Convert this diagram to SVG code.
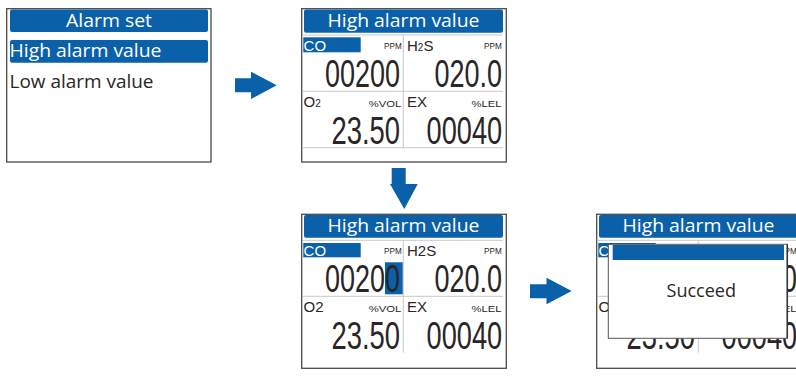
<svg xmlns="http://www.w3.org/2000/svg" width="796" height="382" viewBox="0 0 796 382">
<style>
.frame{fill:#fff;stroke:#4a4a4a;stroke-width:1.3}
.bar{fill:#0b60aa}
.div{stroke:#c9c9c9;stroke-width:1;fill:none}
.ui{font-family:"Open Sans","Liberation Sans",sans-serif;font-size:18px}
.w{fill:#fff}
.d{fill:#2a2526}
.lab{font-family:"Liberation Sans",Arial,sans-serif;font-size:15px}
.unit{font-family:"Liberation Sans",Arial,sans-serif;font-size:8.5px}
.big{font-family:"Liberation Sans",Arial,sans-serif;font-size:38px}
.arrow{fill:#0b60aa}
</style>
<rect width="796" height="382" fill="#fff"/>

<g id="panel1">
<rect class="frame" x="6.7" y="8.7" width="204.3" height="153.3"/>
<rect class="bar" x="10" y="9.5" width="198" height="22.5" rx="2"/>
<text class="ui w" x="66" y="26.7" textLength="86" lengthAdjust="spacingAndGlyphs">Alarm set</text>
<rect class="bar" x="10" y="40" width="198" height="22.7" rx="2"/>
<text class="ui w" x="9.5" y="57" textLength="152" lengthAdjust="spacingAndGlyphs">High alarm value</text>
<text class="ui d" x="9.5" y="88" textLength="144" lengthAdjust="spacingAndGlyphs">Low alarm value</text>
</g>

<g id="panel2">
<rect class="frame" x="301.7" y="8.7" width="204.6" height="153.3"/>
<rect class="bar" x="304" y="9.5" width="199" height="23.2" rx="2"/>
<text class="ui w" x="327.5" y="26.7" textLength="152" lengthAdjust="spacingAndGlyphs">High alarm value</text>
<path class="div" d="M303 35H503M303 91.3H503M303 147.7H503M403.3 35V147.7"/>
<rect class="bar" x="303.3" y="37.3" width="57.4" height="15"/>
<text class="lab w" x="303.6" y="50.7">CO</text>
<text class="unit d" x="384" y="49.3" textLength="17.7" lengthAdjust="spacingAndGlyphs">PPM</text>
<text class="lab d" x="407" y="50.7">H<tspan font-size="10">2</tspan>S</text>
<text class="unit d" x="484" y="49.3" textLength="17.7" lengthAdjust="spacingAndGlyphs">PPM</text>
<text class="big d" x="325" y="87.3" textLength="75" lengthAdjust="spacingAndGlyphs">00200</text>
<text class="big d" x="434.6" y="87.3" textLength="67.5" lengthAdjust="spacingAndGlyphs">020.0</text>
<text class="lab d" x="303.6" y="106.7">O<tspan font-size="10">2</tspan></text>
<text class="unit d" x="368.7" y="107.3" textLength="32.5" lengthAdjust="spacingAndGlyphs">%VOL</text>
<text class="lab d" x="407" y="106.7">EX</text>
<text class="unit d" x="471.4" y="107.3" textLength="30" lengthAdjust="spacingAndGlyphs">%LEL</text>
<text class="big d" x="331.5" y="144" textLength="68.5" lengthAdjust="spacingAndGlyphs">23.50</text>
<text class="big d" x="426.6" y="144" textLength="75.5" lengthAdjust="spacingAndGlyphs">00040</text>
</g>

<g id="panel3">
<rect class="frame" x="301.7" y="214.3" width="204.6" height="154"/>
<rect class="bar" x="304" y="215" width="199" height="22.7" rx="2"/>
<text class="ui w" x="327.5" y="231.7" textLength="152" lengthAdjust="spacingAndGlyphs">High alarm value</text>
<path class="div" d="M303 240.3H503M303 296.3H503M403.3 240.3V352.7"/>
<rect class="bar" x="303.3" y="243" width="57.4" height="14.3"/>
<text class="lab w" x="303.6" y="255.7">CO</text>
<text class="unit d" x="384" y="254.3" textLength="17.7" lengthAdjust="spacingAndGlyphs">PPM</text>
<text class="lab d" x="407" y="255.7">H2S</text>
<text class="unit d" x="484" y="254.3" textLength="17.7" lengthAdjust="spacingAndGlyphs">PPM</text>
<rect class="bar" x="385" y="262.3" width="17.7" height="32"/>
<text class="big d" x="325" y="292.3" textLength="75" lengthAdjust="spacingAndGlyphs">00200</text>
<text class="big d" x="434.6" y="292.3" textLength="67.5" lengthAdjust="spacingAndGlyphs">020.0</text>
<text class="lab d" x="303.6" y="311.7">O2</text>
<text class="unit d" x="368.7" y="312.3" textLength="32.5" lengthAdjust="spacingAndGlyphs">%VOL</text>
<text class="lab d" x="407" y="311.7">EX</text>
<text class="unit d" x="471.4" y="312.3" textLength="30" lengthAdjust="spacingAndGlyphs">%LEL</text>
<text class="big d" x="331.5" y="349" textLength="68.5" lengthAdjust="spacingAndGlyphs">23.50</text>
<text class="big d" x="426.6" y="349" textLength="75.5" lengthAdjust="spacingAndGlyphs">00040</text>
</g>

<g id="panel4">
<rect class="frame" x="596.7" y="214.3" width="204.6" height="154"/>
<rect class="bar" x="599" y="215" width="199" height="22.7" rx="2"/>
<text class="ui w" x="622.5" y="231.7" textLength="152" lengthAdjust="spacingAndGlyphs">High alarm value</text>
<path class="div" d="M598 240.3H798M598 296.3H798M698.3 240.3V352.7"/>
<rect class="bar" x="598.3" y="243" width="57.4" height="14.3"/>
<text class="lab w" x="598.6" y="255.7">CO</text>
<text class="unit d" x="679" y="254.3" textLength="17.7" lengthAdjust="spacingAndGlyphs">PPM</text>
<text class="lab d" x="702" y="255.7">H2S</text>
<text class="unit d" x="779" y="254.3" textLength="17.7" lengthAdjust="spacingAndGlyphs">PPM</text>
<text class="big d" x="620" y="292.3" textLength="75" lengthAdjust="spacingAndGlyphs">00200</text>
<text class="big d" x="729.6" y="292.3" textLength="67.5" lengthAdjust="spacingAndGlyphs">020.0</text>
<text class="lab d" x="598.6" y="311.7">O2</text>
<text class="unit d" x="663.7" y="312.3" textLength="32.5" lengthAdjust="spacingAndGlyphs">%VOL</text>
<text class="lab d" x="702" y="311.7">EX</text>
<text class="unit d" x="766.4" y="312.3" textLength="30" lengthAdjust="spacingAndGlyphs">%LEL</text>
<text class="big d" x="626.5" y="349" textLength="68.5" lengthAdjust="spacingAndGlyphs">23.50</text>
<text class="big d" x="721.6" y="349" textLength="75.5" lengthAdjust="spacingAndGlyphs">00040</text>
<g id="popup">
<rect x="608.3" y="244.3" width="179" height="94" fill="#fff" stroke="#555" stroke-width="1"/>
<line x1="787.3" y1="244.3" x2="787.3" y2="338.3" stroke="#333" stroke-width="1.5"/>
<rect class="bar" x="612.7" y="245" width="171.3" height="15"/>
<text class="ui d" x="666.5" y="297.3" font-size="17" textLength="69.5" lengthAdjust="spacingAndGlyphs">Succeed</text>
</g>
</g>

<g id="connectors">
<polygon class="arrow" points="235,78.3 251,78.3 251,71.7 276.7,85.3 251,99 251,92.3 235,92.3"/>
<polygon class="arrow" points="391.7,168 405.7,168 405.7,184 417.7,184 404.3,209 390,184 391.7,184"/>
<polygon class="arrow" points="530,284.3 546.5,284.3 546.5,277.7 571.7,291 546.5,304.3 546.5,298.3 530,298.3"/>
</g>
</svg>
